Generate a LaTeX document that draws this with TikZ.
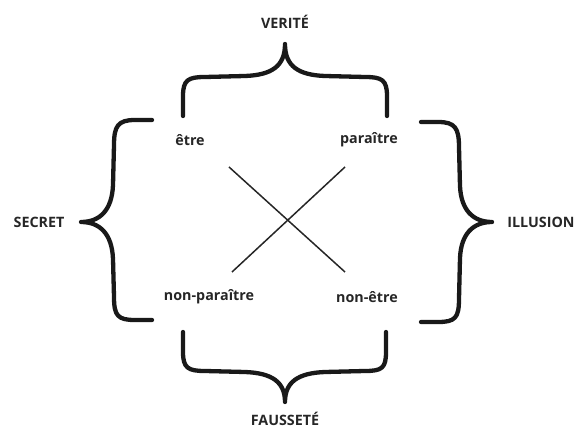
\documentclass[tikz,border=0pt]{standalone}
\usepackage{fontspec}
\setmainfont{Open Sans}
\begin{document}
\begin{tikzpicture}[x=1pt,y=-1pt,
  lbl/.style={font=\fontsize{14.3}{16}\selectfont\bfseries, inner sep=0pt, text=black!85},
  brace/.style={line width=4.3pt, line cap=round, line join=round, black!90},
  cross/.style={line width=1.5pt, black!85}]
\useasboundingbox (0,0) rectangle (574,430);
% labels
\node[lbl] (verite) at (285,22) {VERITÉ};
\node[lbl] (faussete) at (285,419) {FAUSSETÉ};
\node[lbl] (secret) at (39,222) {SECRET};
\node[lbl] (illusion) at (541,222) {ILLUSION};
\node[lbl] (etre) at (190,140) {être};
\node[lbl] (paraitre) at (369,140) {paraître};
\node[lbl] (nonparaitre) at (209,297) {non-paraître};
\node[lbl] (nonetre) at (367,297) {non-être};
% cross
\coordinate (c1) at (229,167);
\coordinate (c2) at (345,272);
\coordinate (c3) at (345,167);
\coordinate (c4) at (232,272);
\draw[cross] (c1) -- (c2);
\draw[cross] (c3) -- (c4);
% top brace
\draw[brace] (183,116) -- (183,96) .. controls (183,80) and (188,77) .. (205,77)
  -- (245,76) .. controls (272,75) and (285,66) .. (285,44)
  .. controls (285,66) and (298,75) .. (325,76)
  -- (365,77) .. controls (382,77) and (387,80) .. (387,96) -- (387,116);
% bottom brace
\draw[brace] (183,332) -- (183,352) .. controls (183,368) and (188,371) .. (205,371)
  -- (245,372) .. controls (272,373) and (285,382) .. (285,402)
  .. controls (285,382) and (298,373) .. (325,372)
  -- (365,371) .. controls (382,371) and (386,368) .. (386,352) -- (386,332);
% left brace
\draw[brace] (152,120) -- (135,120) .. controls (118,120) and (114,126) .. (114,145)
  -- (113,185) .. controls (112,210) and (100,222) .. (81,222)
  .. controls (100,222) and (112,234) .. (113,259)
  -- (114,297) .. controls (114,316) and (118,320) .. (135,320) -- (152,320);
% right brace
\draw[brace] (421,122) -- (438,122) .. controls (455,122) and (459,128) .. (459,147)
  -- (460,186) .. controls (461,210) and (473,222) .. (492,222)
  .. controls (473,222) and (461,234) .. (460,258)
  -- (459,299) .. controls (459,318) and (455,322) .. (438,322) -- (421,322);
\end{tikzpicture}
\end{document}
